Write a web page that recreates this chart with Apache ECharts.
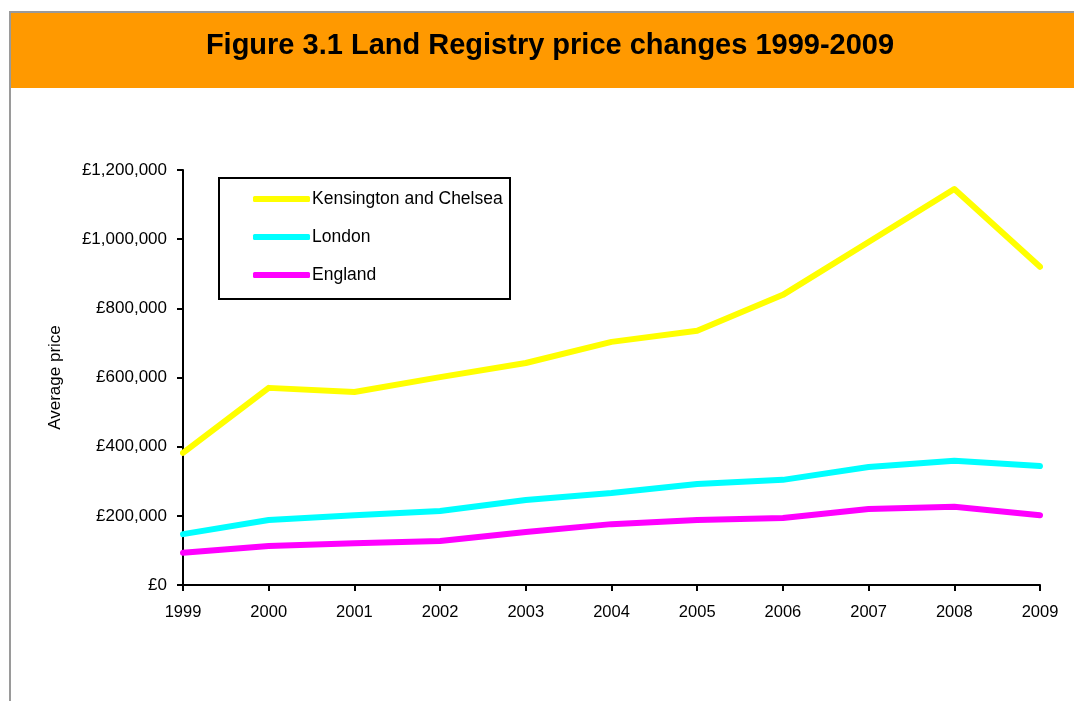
<!DOCTYPE html>
<html>
<head>
<meta charset="utf-8">
<script src="https://cdn.jsdelivr.net/npm/echarts@6/dist/echarts.min.js"></script>
<style>
  html, body { margin: 0; padding: 0; background: #fff; }
  #chart { width: 1074px; height: 701px; }
</style>
</head>
<body>
<div id="chart"></div>
<script>
const years = ['1999', '2000', '2001', '2002', '2003', '2004', '2005', '2006', '2007', '2008', '2009']
const kensington = [382000, 570000, 558000, 601000, 642000, 703000, 735000, 839000, 992000, 1145000, 920000]
const london = [147000, 188000, 202000, 214000, 246000, 266000, 292000, 304000, 341000, 359000, 344000]
const england = [93000, 113000, 121000, 127000, 153000, 176000, 188000, 194000, 220000, 226000, 202000]

const font = 'Liberation Sans, Arial, sans-serif'

const chart = echarts.init(document.getElementById('chart'))

const makeLine = (name, data, color) => ({
  name: name,
  type: 'line',
  data: data,
  symbol: 'none',
  color: color,
  lineStyle: { width: 6, color: color, cap: 'round', join: 'round' },
  emphasis: { disabled: true }
})

const option = {
  animation: false,
  textStyle: { fontFamily: font },
  graphic: [
    { type: 'rect', shape: { x: 9, y: 11, width: 1065, height: 2 }, style: { fill: '#9a9a9a' } },
    { type: 'rect', shape: { x: 9, y: 11, width: 2, height: 690 }, style: { fill: '#9a9a9a' } },
    { type: 'rect', shape: { x: 11, y: 13, width: 1063, height: 75 }, style: { fill: '#ff9900' } },
    { type: 'rect', shape: { x: 219, y: 178, width: 291, height: 121 }, style: { fill: 'none', stroke: '#000', lineWidth: 2 } }
  ],
  title: {
    text: 'Figure 3.1 Land Registry price changes 1999-2009',
    left: 550,
    top: 31,
    textAlign: 'center',
    padding: 0,
    textStyle: { fontFamily: font, fontSize: 29, fontWeight: 'bold', color: '#000' }
  },
  legend: {
    orient: 'vertical',
    left: 253,
    top: 190,
    padding: 0,
    itemGap: 20,
    itemWidth: 57,
    itemHeight: 6,
    icon: 'roundRect',
    selectedMode: false,
    textStyle: { fontFamily: font, fontSize: 17.5, color: '#000', padding: [0, 0, 0, -3] },
    data: ['Kensington and Chelsea', 'London', 'England']
  },
  grid: { left: 183, right: 34, top: 170, bottom: 116, containLabel: false },
  xAxis: {
    type: 'category',
    data: years,
    boundaryGap: false,
    axisLine: { lineStyle: { color: '#000', width: 2 } },
    axisTick: { show: true, length: 6, alignWithLabel: true, lineStyle: { color: '#000', width: 2 } },
    axisLabel: { color: '#000', fontSize: 16.5, margin: 19, fontFamily: font },
    splitLine: { show: false }
  },
  yAxis: {
    type: 'value',
    min: 0,
    max: 1200000,
    interval: 200000,
    name: 'Average price',
    nameLocation: 'middle',
    nameRotate: 90,
    nameGap: 119,
    nameMoveOverlap: false,
    nameTextStyle: { color: '#000', fontSize: 17, fontFamily: font },
    axisLine: { show: true, lineStyle: { color: '#000', width: 2 } },
    axisTick: { show: true, length: 6, lineStyle: { color: '#000', width: 2 } },
    axisLabel: {
      color: '#000',
      fontSize: 17,
      margin: 16,
      fontFamily: font,
      formatter: v => '£' + v.toLocaleString('en-GB')
    },
    splitLine: { show: false }
  },
  series: [
    makeLine('Kensington and Chelsea', kensington, '#ffff00'),
    makeLine('London', london, '#00ffff'),
    makeLine('England', england, '#ff00ff')
  ]
}

chart.setOption(option)
</script>
</body>
</html>
